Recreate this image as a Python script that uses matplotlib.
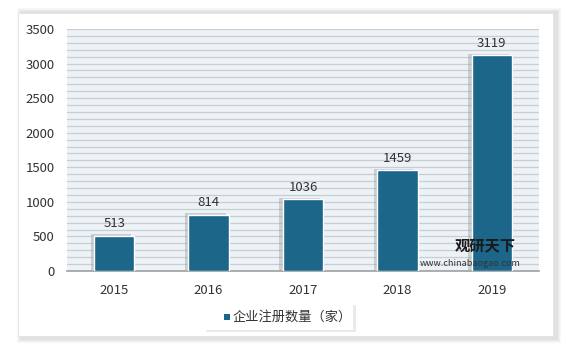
import matplotlib
matplotlib.use("Agg")
import matplotlib.pyplot as plt
from matplotlib.patches import Rectangle

plt.rcParams['font.family'] = ['Noto Sans CJK SC', 'DejaVu Sans']

years = ['2015', '2016', '2017', '2018', '2019']
values = [513, 814, 1036, 1459, 3119]
series_name = '企业注册数量（家）'
bar_color = '#1b6689'

fig = plt.figure(figsize=(5.66, 3.46), dpi=100)
fig.patch.set_facecolor('white')

W, H = 566, 346
def fx(px): return px / W
def fy(py): return 1 - py / H
# outer panel with shadow
for i, a in enumerate([0.05, 0.05, 0.06, 0.08]):
    d = 5 - i
    fig.patches.append(Rectangle((fx(18 - d + 4), fy(338 + d)), fx(536 + 2*d - 2), (338 - 13 + 2*d) / H,
                                 transform=fig.transFigure, facecolor='#808080', alpha=a, edgecolor='none', zorder=0))
fig.patches.append(Rectangle((fx(18), fy(336)), fx(535), (336 - 13) / H, transform=fig.transFigure,
                             facecolor='white', edgecolor='#e0e0e0', lw=0.5, zorder=1))

ax = fig.add_axes([fx(67), fy(271), fx(539 - 67), (271 - 29) / H])
ax.set_zorder(2)
ax.set_facecolor('#edf2f7')
x = list(range(len(years)))
# soft shadows
ax.bar([i - 0.035 for i in x], [v + 20 for v in values], width=0.43, color='#9a9a9a', alpha=0.4, zorder=2)
ax.bar(x, values, width=0.43, color=bar_color, edgecolor='white', linewidth=1.0, zorder=3,
       label=series_name)
for i, v in zip(x, values):
    ax.text(i, v + 80, str(v), ha='center', va='bottom', fontsize=9.5, color='#333333', zorder=4)

ax.set_ylim(0, 3500)
ax.set_xlim(-0.5, 4.5)
ax.set_yticks(range(0, 3501, 500))
ax.set_yticks(range(0, 3501, 100), minor=True)
ax.yaxis.grid(True, which='both', color='#c8cdd2', linewidth=0.9)
ax.set_axisbelow(True)
ax.set_xticks(x)
ax.set_xticklabels(years)
ax.tick_params(axis='both', length=0, labelsize=9.5, colors='#333333')
ax.tick_params(axis='x', pad=9)
ax.tick_params(axis='y', pad=9)
ax.tick_params(axis='y', which='minor', length=0)
for s in ['top', 'right', 'left']:
    ax.spines[s].set_visible(False)
ax.spines['bottom'].set_color('#a0a0a0')
ax.spines['bottom'].set_linewidth(1.2)

# watermark
fig.text(fx(455), fy(245), '观研天下', fontsize=11, fontweight='bold', color='#1a1a1a', va='center', ha='left', zorder=5)
fig.text(fx(420), fy(263), 'www.chinabaogao.com', fontsize=6.5, color='#333333', va='center', ha='left', zorder=5)

# legend box
fig.patches.append(Rectangle((fx(206), fy(332)), fx(150), 27 / H, transform=fig.transFigure,
                             facecolor='#bbbbbb', alpha=0.3, edgecolor='none', zorder=3))
fig.patches.append(Rectangle((fx(204), fy(330)), fx(149), 26 / H, transform=fig.transFigure,
                             facecolor='white', edgecolor='none', zorder=4))
fig.patches.append(Rectangle((fx(224), fy(320)), fx(6), 6 / H, transform=fig.transFigure,
                             facecolor=bar_color, edgecolor='none', zorder=5))
fig.text(fx(233), fy(317), series_name, fontsize=9.5, color='#333333', va='center', ha='left', zorder=5)

fig.savefig('out.png', dpi=100)
